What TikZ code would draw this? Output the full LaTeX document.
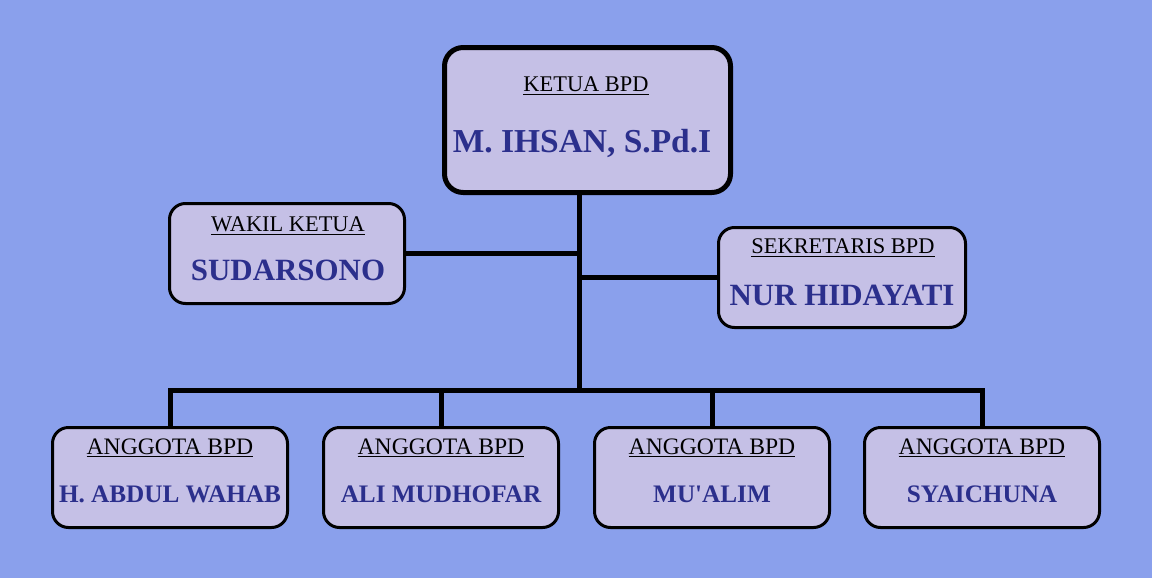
\documentclass[tikz,border=0pt]{standalone}
\usepackage{fontspec}
\setmainfont{Liberation Serif}
\usepackage{tikz}
\definecolor{bgblue}{RGB}{138,160,236}
\definecolor{boxfill}{RGB}{197,192,230}
\definecolor{namecol}{RGB}{43,47,140}

\begin{document}
\begin{tikzpicture}[x=0.75pt,y=-0.75pt,
    box/.style={draw,fill=boxfill,rounded corners=12pt,line width=2.25pt,
                minimum width=235*0.75pt,minimum height=100*0.75pt,inner sep=0pt},
    bigbox/.style={box,line width=3.75pt,rounded corners=14pt,
                minimum width=286*0.75pt,minimum height=145*0.75pt},
    title/.style={font=\fontsize{16.8}{18}\selectfont,inner sep=0pt},
    small title/.style={title,font=\fontsize{17.7}{19}\selectfont},
    person/.style={font=\bfseries\fontsize{23.2}{25}\selectfont,text=namecol,inner sep=0pt},
    small person/.style={person,font=\bfseries\fontsize{18.9}{20}\selectfont},
    big person/.style={person,font=\bfseries\fontsize{25.1}{27}\selectfont},
    link/.style={line width=3.75pt}]
  % page
  \fill[bgblue] (0,0) rectangle (1152,578);
  \useasboundingbox (0,0) rectangle (1152,578);
  % boxes
  \node[bigbox] (ketua) at (587.5,120) {};
  \node[box] (wakil) at (287,253.5) {};
  \node[box,minimum width=247*0.75pt] (sek) at (842,277.5) {};
  \node[box] (agA) at (170,477.5) {};
  \node[box] (agB) at (441,477.5) {};
  \node[box] (agC) at (712,477.5) {};
  \node[box] (agD) at (982,477.5) {};
  % texts
  \node[title] (tKetua) at (586,86) {\underline{KETUA BPD}};
  \node[big person] (nKetua) at (582,143) {M. IHSAN, S.Pd.I};
  \node[title] (tWakil) at (288,226) {\underline{WAKIL KETUA}};
  \node[person] (nWakil) at (288,270) {SUDARSONO};
  \node[title] (tSek) at (843,248) {\underline{SEKRETARIS BPD}};
  \node[person] (nSek) at (842,295) {NUR HIDAYATI};
  \foreach \b/\n in {agA/H. ABDUL WAHAB, agB/ALI MUDHOFAR, agC/MU\textquotesingle ALIM, agD/SYAICHUNA} {
    \node[small title] (t\b) at ([yshift=-22*0.75pt]\b.north) {\underline{ANGGOTA BPD}};
    \node[small person] (n\b) at ([yshift=-68*0.75pt]\b.north) {\n};
  }
  % connectors
  \coordinate (bus) at (579,390);
  \draw[link] (bus |- ketua.south) -- (bus);
  \draw[link] (wakil.east) -- (wakil.east -| bus);
  \draw[link] (sek.west) -- (sek.west -| bus);
  \draw[link] (agA.north) -- (agA.north |- bus) -- (agD.north |- bus) -- (agD.north);
  \draw[link] (agB.north) -- (agB.north |- bus);
  \draw[link] (agC.north) -- (agC.north |- bus);
\end{tikzpicture}
\end{document}
